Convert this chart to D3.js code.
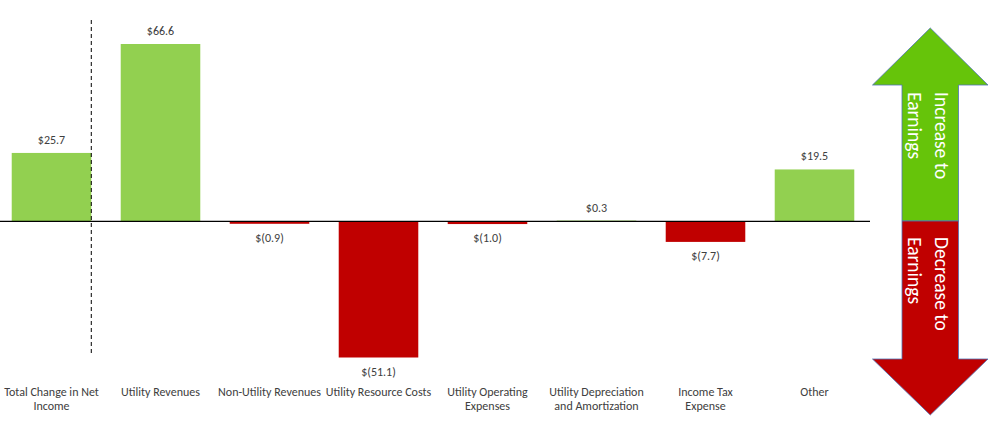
<!DOCTYPE html>
<html>
<head>
<meta charset="utf-8">
<script src="https://cdn.jsdelivr.net/npm/d3@7/dist/d3.min.js"></script>
<style>
  body { margin: 0; background: #fff; }
  svg { display: block; font-family: Carlito, Roboto, sans-serif; }
  .value, .cat { fill: #404040; font-size: 12px; }
  .arrow-text { fill: #fff; font-size: 19.5px; }
</style>
</head>
<body>
<div id="chart"></div>
<script>
'use strict';

// Category labels, already broken into lines as in the source.
var categories = [
  ['Total Change in Net', 'Income'],
  ['Utility Revenues'],
  ['Non-Utility Revenues'],
  ['Utility Resource Costs'],
  ['Utility Operating', 'Expenses'],
  ['Utility Depreciation', 'and Amortization'],
  ['Income Tax', 'Expense'],
  ['Other']
];
// Change in earnings, $ millions.
var values = [25.7, 66.6, -0.9, -51.1, -1.0, 0.3, -7.7, 19.5];
var arrowLabels = [['Increase to', 'Earnings'], ['Decrease to', 'Earnings']];

var width = 1005;
var height = 435;

var svg = d3.select('#chart').append('svg')
  .attr('width', width)
  .attr('height', height);

var keys = categories.map(function(c) { return c.join(' '); });

var x = d3.scaleBand()
  .domain(keys)
  .range([-3, 869])
  .paddingInner(0.27)
  .paddingOuter(0.135);

var y = d3.scaleLinear()
  .domain(d3.extent(values))
  .range([357.5, 44]);

var fmt = function(v) {
  var s = d3.format('.1f')(Math.abs(v));
  return v < 0 ? '$(' + s + ')' : '$' + s;
};

// Bars.
svg.selectAll('rect.bar')
  .data(values)
  .enter().append('rect')
  .attr('class', 'bar')
  .attr('x', function(d, i) { return x(keys[i]); })
  .attr('width', x.bandwidth())
  .attr('y', function(d) { return y(Math.max(0, d)); })
  .attr('height', function(d) { return Math.abs(y(d) - y(0)); })
  .attr('fill', function(d) { return d < 0 ? '#C00000' : '#92D050'; });

// Zero line.
svg.append('line')
  .attr('x1', 0)
  .attr('x2', 870)
  .attr('y1', y(0))
  .attr('y2', y(0))
  .attr('stroke', '#000')
  .attr('stroke-width', 1.2);

// Dashed separator after the total.
var sepX = x(keys[0]) + x.bandwidth();
svg.append('line')
  .attr('x1', sepX)
  .attr('x2', sepX)
  .attr('y1', 20)
  .attr('y2', 355)
  .attr('stroke', '#000')
  .attr('stroke-width', 1)
  .attr('stroke-dasharray', '4,3');

// Value labels.
svg.selectAll('text.value')
  .data(values)
  .enter().append('text')
  .attr('class', 'value')
  .attr('text-anchor', 'middle')
  .attr('x', function(d, i) { return x(keys[i]) + x.bandwidth() / 2; })
  .attr('y', function(d) { return d < 0 ? y(d) + 18 : y(d) - 9; })
  .text(fmt);

// Category labels.
var cat = svg.selectAll('text.cat')
  .data(categories)
  .enter().append('text')
  .attr('class', 'cat')
  .attr('text-anchor', 'middle')
  .attr('transform', function(d, i) {
    return 'translate(' + (x(keys[i]) + x.bandwidth() / 2) + ',396)';
  });

cat.selectAll('tspan')
  .data(function(d) { return d; })
  .enter().append('tspan')
  .attr('x', 0)
  .attr('dy', function(d, i) { return i === 0 ? 0 : 14; })
  .text(function(d) { return d; });

// Double arrow legend on the right.
var ax = { left: 872.5, sl: 902, sr: 958.5, right: 988, top: 28, headTop: 85, mid: 221, headBot: 359, bottom: 415 };
var cx = (ax.left + ax.right) / 2;
var line = d3.line();

svg.append('path')
  .attr('d', line([[cx, ax.top], [ax.right, ax.headTop], [ax.sr, ax.headTop], [ax.sr, ax.mid],
    [ax.sl, ax.mid], [ax.sl, ax.headTop], [ax.left, ax.headTop]]) + 'Z')
  .attr('fill', '#66C40A')
  .attr('stroke', '#4F74B8')
  .attr('stroke-width', 0.8);

svg.append('path')
  .attr('d', line([[ax.sl, ax.mid], [ax.sr, ax.mid], [ax.sr, ax.headBot], [ax.right, ax.headBot],
    [cx, ax.bottom], [ax.left, ax.headBot], [ax.sl, ax.headBot]]) + 'Z')
  .attr('fill', '#C00000')
  .attr('stroke', '#4F74B8')
  .attr('stroke-width', 0.8);

var starts = [92, 237];
arrowLabels.forEach(function(lines, k) {
  lines.forEach(function(txt, j) {
    svg.append('text')
      .attr('class', 'arrow-text')
      .attr('dominant-baseline', 'central')
      .attr('transform', 'translate(' + (j === 0 ? 942 : 915) + ',' + starts[k] + ') rotate(90)')
      .text(txt);
  });
});
</script>
</body>
</html>
